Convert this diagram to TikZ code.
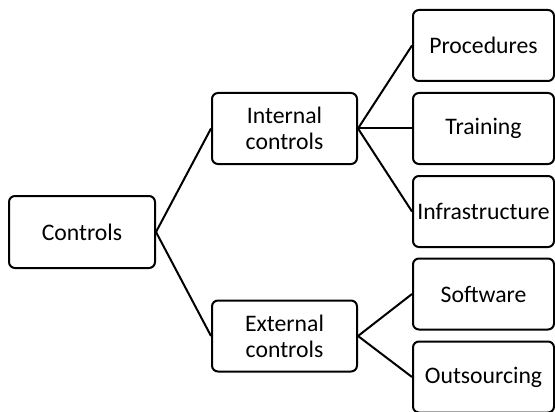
\documentclass[tikz,border=0pt]{standalone}
\usepackage{fontspec}
\setmainfont{Carlito}
\usetikzlibrary{positioning}

\begin{document}
\begin{tikzpicture}[x=0.5pt,y=-0.5pt,
    box/.style={draw,line width=1pt,rounded corners=3pt,align=center,inner sep=0pt,
      minimum width=72.5pt,minimum height=35.5pt,font=\fontsize{11.85}{13}\selectfont},
    leaf/.style={box,minimum width=70.5pt},
    link/.style={line width=1pt}]
  % frame of the picture (leaf boxes run off the right and bottom edge)
  \useasboundingbox (0,0) rectangle (555,411);
  \clip (0,0) rectangle (555,411);
  % root and second level
  \node[box,minimum width=73pt,minimum height=36pt] (controls) at (82,232) {Controls};
  \node[box] (internal) at (284.5,128.5) {Internal\\controls};
  \node[box] (external) at (284.5,336) {External\\controls};
  % leaves
  \foreach \name/\y/\txt in {proc/45.5/Procedures,train/128.5/Training,infra/211.5/Infrastructure,soft/294/Software,outs/377/Outsourcing}
    {\node[leaf] (\name) at (483.5,\y) {\txt};}
  % connectors
  \draw[link] (controls.east) -- (internal.west);
  \draw[link] (controls.east) -- (external.west);
  \foreach \n in {proc,train,infra}{\draw[link] (internal.east) -- (\n.west);}
  \foreach \n in {soft,outs}{\draw[link] (external.east) -- (\n.west);}
\end{tikzpicture}
\end{document}
